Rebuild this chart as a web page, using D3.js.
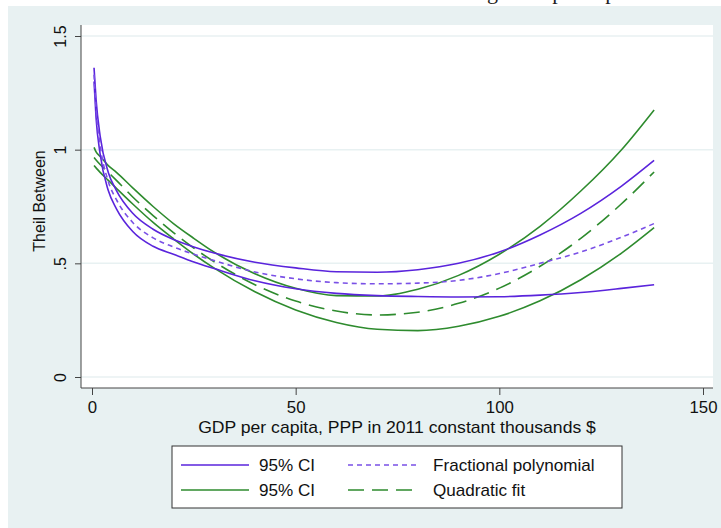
<!DOCTYPE html>
<html>
<head>
<meta charset="utf-8">
<script src="https://cdn.jsdelivr.net/npm/d3@7"></script>
<style>
  body { margin: 0; background: #fff; }
  svg { display: block; font-family: "Liberation Sans", Arial, sans-serif; }
</style>
</head>
<body>
<svg id="chart" width="721" height="528"></svg>
<script>
// GDP per capita (thousands $), points where the curves were read
const gdp = [0.5, 1, 2, 4, 6, 10, 15, 20, 25, 30, 40, 50, 60, 70, 80, 90, 100, 110, 120, 130, 138];

// fractional polynomial fit and its 95% CI
const fpUpper = [1.36, 1.22, 1.06, 0.90, 0.82, 0.72, 0.65, 0.605, 0.572, 0.545, 0.505, 0.48, 0.463, 0.461, 0.472, 0.50, 0.55, 0.625, 0.72, 0.84, 0.953];
const fpFit   = [1.33, 1.18, 1.02, 0.86, 0.78, 0.68, 0.612, 0.572, 0.54, 0.512, 0.462, 0.432, 0.415, 0.41, 0.413, 0.425, 0.455, 0.50, 0.55, 0.615, 0.675];
const fpLower = [1.30, 1.14, 0.98, 0.82, 0.74, 0.64, 0.575, 0.54, 0.506, 0.477, 0.423, 0.388, 0.368, 0.358, 0.354, 0.352, 0.353, 0.36, 0.372, 0.39, 0.406];

// quadratic fit and its 95% CI
const qUpper = [1.01, 0.99, 0.97, 0.93, 0.90, 0.832, 0.75, 0.675, 0.61, 0.549, 0.454, 0.39, 0.358, 0.356, 0.386, 0.447, 0.54, 0.663, 0.818, 1.0, 1.175];
const qFit   = [0.966, 0.955, 0.935, 0.90, 0.865, 0.792, 0.71, 0.635, 0.567, 0.507, 0.406, 0.334, 0.29, 0.273, 0.285, 0.324, 0.391, 0.487, 0.61, 0.762, 0.902];
const qLower = [0.93, 0.92, 0.90, 0.865, 0.83, 0.761, 0.68, 0.608, 0.54, 0.479, 0.375, 0.295, 0.24, 0.21, 0.204, 0.223, 0.267, 0.335, 0.428, 0.545, 0.657];

const xTicks = [0, 50, 100, 150];
const yTicks = [0, 0.5, 1, 1.5];
const yTickLabels = ["0", ".5", "1", "1.5"];

const purple = "#5a24dc";
const purpleLight = "#7a50e6";
const green = "#2e8b2e";
const bg = "#e8f1f2";

const svg = d3.select("#chart");

// l'image d'origine est un peu étirée en largeur
const stretch = 1.1;

svg.append("rect").attr("width", 721).attr("height", 528).attr("fill", "#fff");
svg.append("rect").attr("x", 8).attr("y", 6).attr("width", 713).attr("height", 522).attr("fill", bg);

// titre coupé en haut (seules les descentes sont visibles)
svg.append("text")
    .attr("transform", "translate(487,-1) scale(1.1,1)")
    .style("font-family", "'Liberation Serif', 'Times New Roman', serif")
    .style("font-size", "20px")
    .attr("fill", "#222")
    .text("g GDP per capita");

const plot = { left: 81, right: 713, top: 25, bottom: 388 };

svg.append("rect")
    .attr("x", plot.left).attr("y", plot.top)
    .attr("width", plot.right - plot.left).attr("height", plot.bottom - plot.top)
    .attr("fill", "#fff");

const x = d3.scaleLinear().domain([0, 150]).range([92, 703]);
const y = d3.scaleLinear().domain([0, 1.5]).range([377, 36]);

// grille
svg.append("g")
    .selectAll("line")
    .data(yTicks)
    .join("line")
    .attr("x1", plot.left).attr("x2", plot.right)
    .attr("y1", d => y(d)).attr("y2", d => y(d))
    .attr("stroke", bg).attr("stroke-width", 1.5);

// axe Y
const yAxis = svg.append("g")
    .attr("transform", `translate(${plot.left},0)`)
    .call(d3.axisLeft(y).tickValues(yTicks).tickSize(6).tickFormat((d, i) => yTickLabels[i]));
yAxis.select(".domain").attr("d", `M0,${plot.top}V${plot.bottom}`).attr("stroke", "#444");
yAxis.selectAll(".tick line").attr("stroke", "#444");
yAxis.selectAll(".tick text")
    .attr("transform", "rotate(-90)")
    .attr("x", 0).attr("y", -15).attr("dy", 0)
    .attr("text-anchor", "middle")
    .style("font-size", "16px")
    .attr("fill", "#111");

// axe X
const xAxis = svg.append("g")
    .attr("transform", `translate(0,${plot.bottom})`)
    .call(d3.axisBottom(x).tickValues(xTicks).tickSize(7).tickFormat(d3.format("d")));
xAxis.select(".domain").attr("d", `M${plot.left},0H${plot.right}`).attr("stroke", "#444");
xAxis.selectAll(".tick line").attr("stroke", "#444");
xAxis.selectAll(".tick text")
    .attr("y", null).attr("dy", 0)
    .attr("transform", `translate(0,25) scale(1.05,1)`)
    .style("font-size", "16px")
    .attr("fill", "#111");

svg.append("text")
    .attr("transform", `translate(397,433) scale(${stretch},1)`)
    .attr("text-anchor", "middle")
    .style("font-size", "16px")
    .attr("fill", "#111")
    .text("GDP per capita, PPP in 2011 constant thousands $");

svg.append("text")
    .attr("transform", "translate(45,201) rotate(-90)")
    .attr("text-anchor", "middle")
    .style("font-size", "16px")
    .attr("fill", "#111")
    .text("Theil Between");

// courbes
const series = [
    { values: qUpper, color: green, dash: null },
    { values: qLower, color: green, dash: null },
    { values: qFit, color: green, dash: "16,8" },
    { values: fpUpper, color: purple, dash: null },
    { values: fpLower, color: purple, dash: null },
    { values: fpFit, color: purpleLight, dash: "5,4" }
];

const line = d3.line()
    .x(d => x(d[0]))
    .y(d => y(d[1]))
    .curve(d3.curveMonotoneX);

svg.append("g")
    .selectAll("path")
    .data(series)
    .join("path")
    .attr("d", s => line(gdp.map((g, i) => [g, s.values[i]])))
    .attr("fill", "none")
    .attr("stroke", s => s.color)
    .attr("stroke-width", 1.6)
    .attr("stroke-dasharray", s => s.dash);

// légende
const legend = svg.append("g");
legend.append("rect")
    .attr("x", 172).attr("y", 446)
    .attr("width", 450).attr("height", 62)
    .attr("fill", "#fff")
    .attr("stroke", "#333").attr("stroke-width", 1);

const legendItems = [
    { label: "95% CI", color: purple, dash: null, col: 0, row: 0 },
    { label: "Fractional polynomial", color: purpleLight, dash: "5,4", col: 1, row: 0 },
    { label: "95% CI", color: green, dash: null, col: 0, row: 1 },
    { label: "Quadratic fit", color: green, dash: "16,8", col: 1, row: 1 }
];

const items = legend.selectAll("g.item")
    .data(legendItems)
    .join("g")
    .attr("class", "item")
    .attr("transform", d => `translate(${181 + d.col * 167},${465 + d.row * 25})`);

items.append("line")
    .attr("x1", 0).attr("x2", 68)
    .attr("stroke", d => d.color)
    .attr("stroke-width", 1.6)
    .attr("stroke-dasharray", d => d.dash);

items.append("text")
    .attr("transform", d => `translate(${d.col === 0 ? 78 : 85},6) scale(1.07,1)`)
    .style("font-size", "16px")
    .attr("fill", "#111")
    .text(d => d.label);
</script>
</body>
</html>
